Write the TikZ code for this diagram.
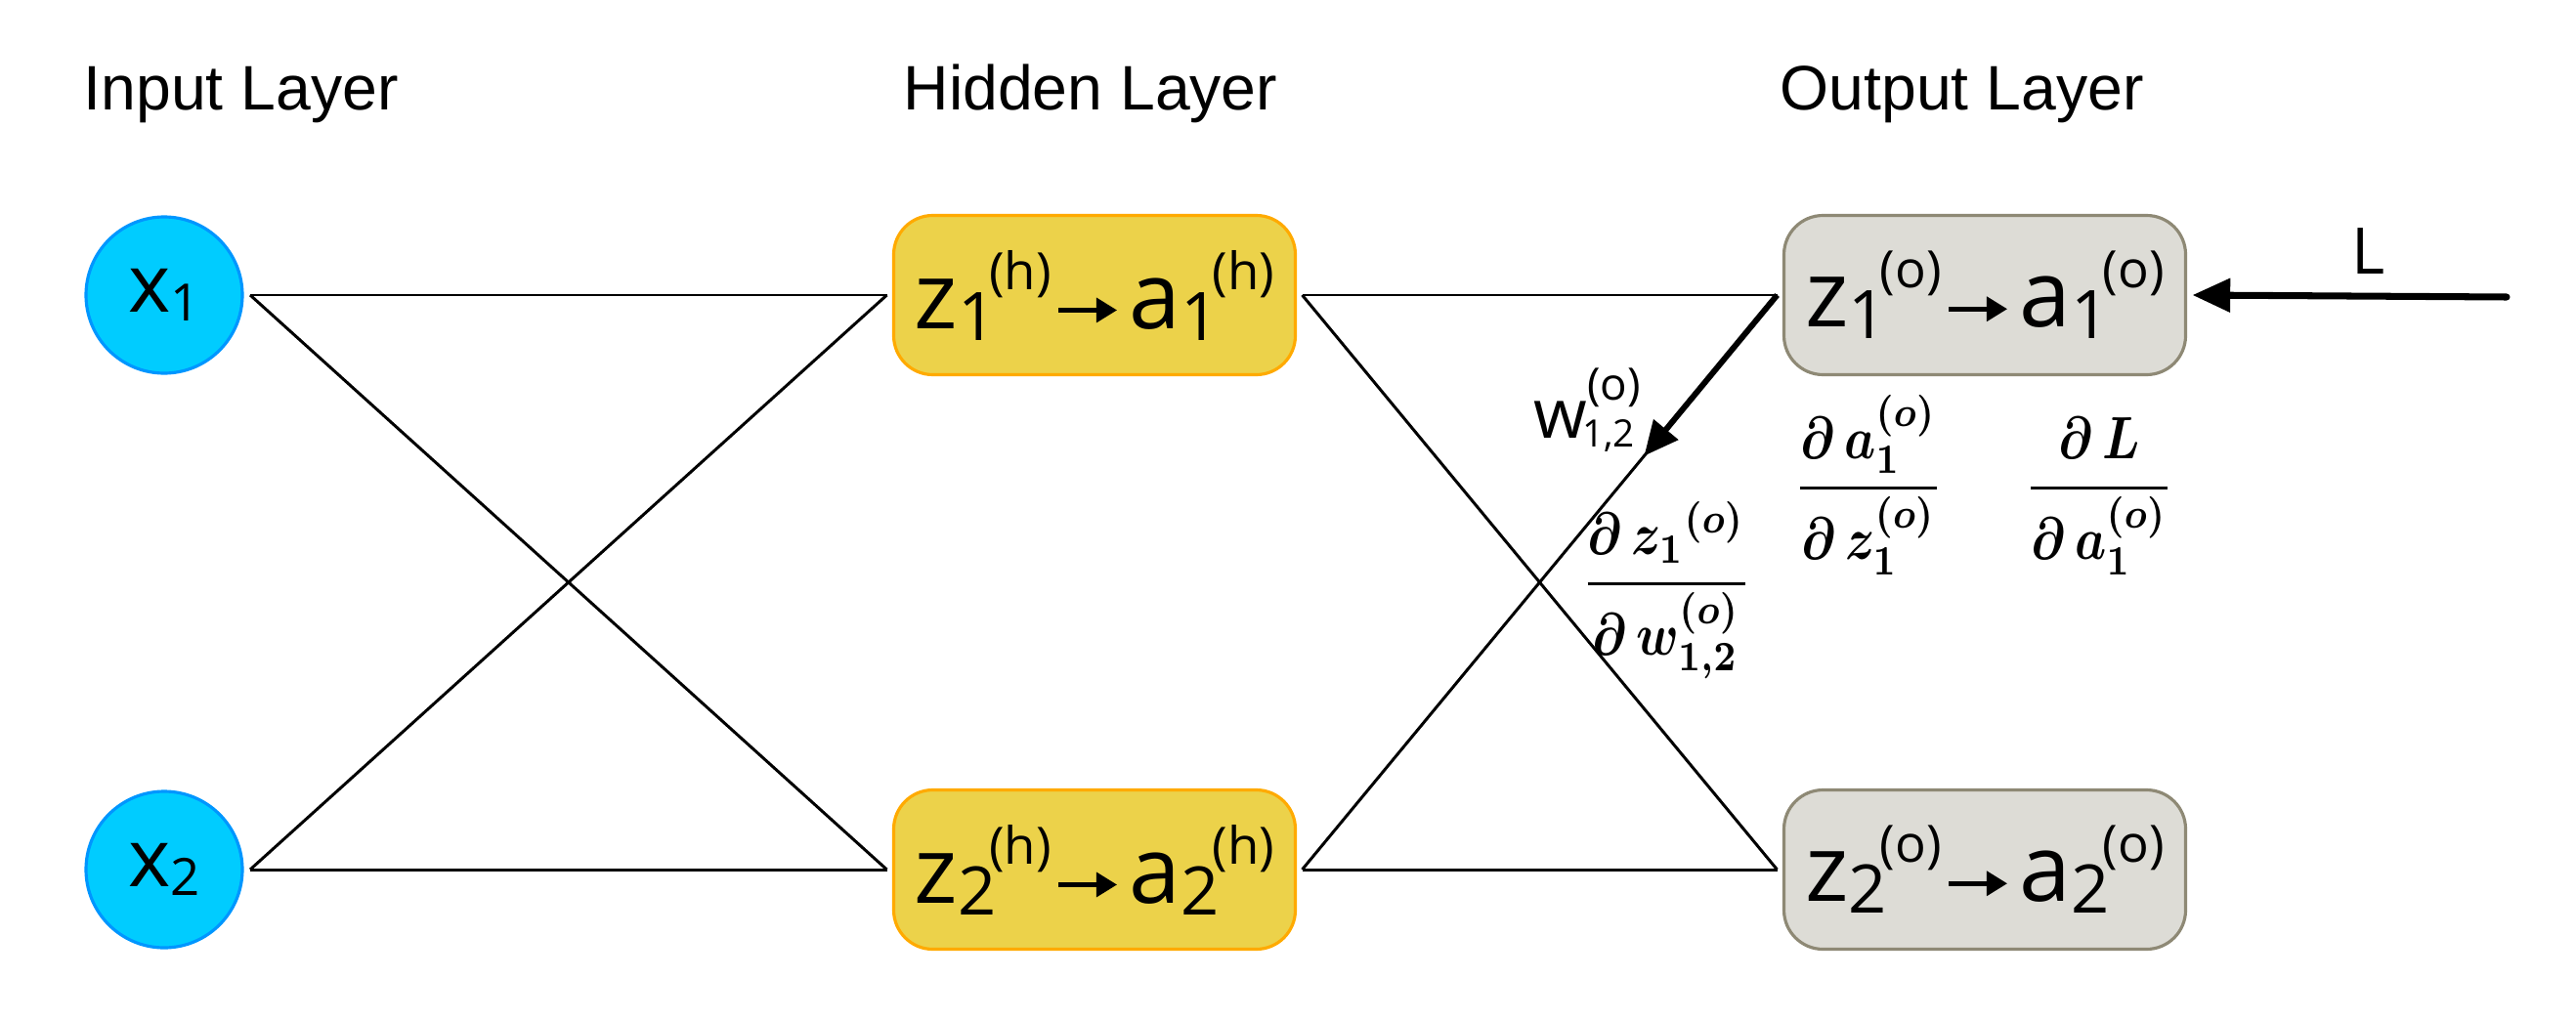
\documentclass[tikz,border=0pt]{standalone}
\usepackage{amsmath}
\usepackage{graphicx}
\usepackage{fontspec}
\newfontfamily\unitfont{Open Sans}
\newfontfamily\headfont{Liberation Sans}
\usetikzlibrary{arrows.meta}

\definecolor{inFill}{RGB}{0,204,255}
\definecolor{inLine}{RGB}{0,150,255}
\definecolor{hidFill}{RGB}{236,210,74}
\definecolor{hidLine}{RGB}{255,170,0}
\definecolor{outFill}{RGB}{221,220,214}
\definecolor{outLine}{RGB}{142,137,117}

% sub/superscript pieces of a unit label
\newcommand{\subidx}[1]{\raisebox{-3.4pt}{\fontsize{19.5}{20}\selectfont #1}}
\newcommand{\suptag}[1]{\raisebox{11.4pt}{\fontsize{15}{16}\selectfont (#1)}}
\newcommand{\maparrow}{\tikz[baseline=-5.3pt]\draw[line width=1.3pt, -{Triangle[length=6pt, width=7pt]}] (0,0) -- (17pt,0);}
\newcommand{\actv}[2]{%
    \fontsize{27}{30}\selectfont
    z\subidx{#1}\kern-2pt\suptag{#2}%
    \kern1.5pt\maparrow\kern3pt
    a\subidx{#1}\kern-2pt\suptag{#2}}
\newcommand{\gradfrac}[2]{\scalebox{1.45}[1.74]{\boldmath$\displaystyle\frac{#1}{#2}$}}

\tikzset{
    inunit/.style={circle, draw=inLine, fill=inFill, line width=0.9pt,
        minimum size=1.6cm, inner sep=0pt, outer sep=0.08cm, font=\unitfont},
    hidunit/.style={rectangle, rounded corners=0.4cm, draw=hidLine, fill=hidFill,
        line width=0.9pt, minimum width=4.11cm, minimum height=1.63cm,
        inner sep=0pt, outer sep=0.07cm, font=\unitfont},
    outunit/.style={hidunit, draw=outLine, fill=outFill},
    link/.style={black, line width=0.85pt},
    header/.style={anchor=base west, inner sep=0pt,
        font=\headfont\fontsize{18.3}{20}\selectfont},
    grad/.style={anchor=base, inner sep=0pt},
    wgrad/.style={-{Triangle[length=10pt, width=9pt]}, line width=1.7pt},
    lossarrow/.style={-{Triangle[length=11pt, width=9.5pt]}, line width=2pt, line cap=round},
}

\begin{document}
\begin{tikzpicture}

    \useasboundingbox (0,0) rectangle (26.36,10.44);

    % === Layer titles ===
    \node[header] (inHead)  at (0.85,9.31)  {Input Layer};
    \node[header] (hidHead) at (9.24,9.31)  {Hidden Layer};
    \node[header] (outHead) at (18.21,9.31) {Output Layer};

    % === Units ===
    \node[inunit] (x1) at (1.68,7.42) {\fontsize{23.5}{25}\selectfont x\raisebox{-2.6pt}{\fontsize{15}{16}\selectfont 1}};
    \node[inunit] (x2) at (1.68,1.54) {\fontsize{23.5}{25}\selectfont x\raisebox{-2.6pt}{\fontsize{15}{16}\selectfont 2}};

    \node[hidunit] (h1) at (11.2,7.42) {\actv{1}{h}};
    \node[hidunit] (h2) at (11.2,1.54) {\actv{2}{h}};

    \node[outunit] (o1) at (20.31,7.42) {\actv{1}{o}};
    \node[outunit] (o2) at (20.31,1.54) {\actv{2}{o}};

    % === Connections ===
    \foreach \i in {1,2} {
        \foreach \j in {1,2} {
            \draw[link] (x\i.east) -- (h\j.west);
            \draw[link] (h\i.east) -- (o\j.west);
        }
    }

    % === Backward pass ===
    \path (h2.east) -- (o1.west) coordinate[pos=0.72] (wtip);
    \draw[wgrad] (o1.west) -- (wtip);
    \node[anchor=base west, inner sep=0pt, font=\unitfont\fontsize{20}{22}\selectfont] (wlbl) at (15.69,5.96)
        {w\kern-1.5pt\rlap{\raisebox{-2.8pt}{\fontsize{11}{12}\selectfont 1,2}}\kern1.5pt\raisebox{11pt}{\fontsize{13}{14}\selectfont (o)}};

    \coordinate (Lsrc) at (25.65,7.40);
    \draw[lossarrow] (Lsrc) -- (o1.east);
    \node[anchor=base, inner sep=0pt, font=\unitfont\fontsize{18.7}{20}\selectfont] (lossL) at (24.24,7.64) {L};

    % Partial derivatives
    \node[grad] (dzdw) at (17.05,4.31) {\gradfrac{\partial\, z_1{}^{(o)}}{\partial\, w_{1,2}^{(o)}}};
    \node[grad] (dadz) at (19.12,5.29) {\gradfrac{\partial\, a_1^{(o)}}{\partial\, z_1^{(o)}}};
    \node[grad] (dLda) at (21.48,5.29) {\gradfrac{\partial\, L}{\partial\, a_1^{(o)}}};

\end{tikzpicture}
\end{document}
